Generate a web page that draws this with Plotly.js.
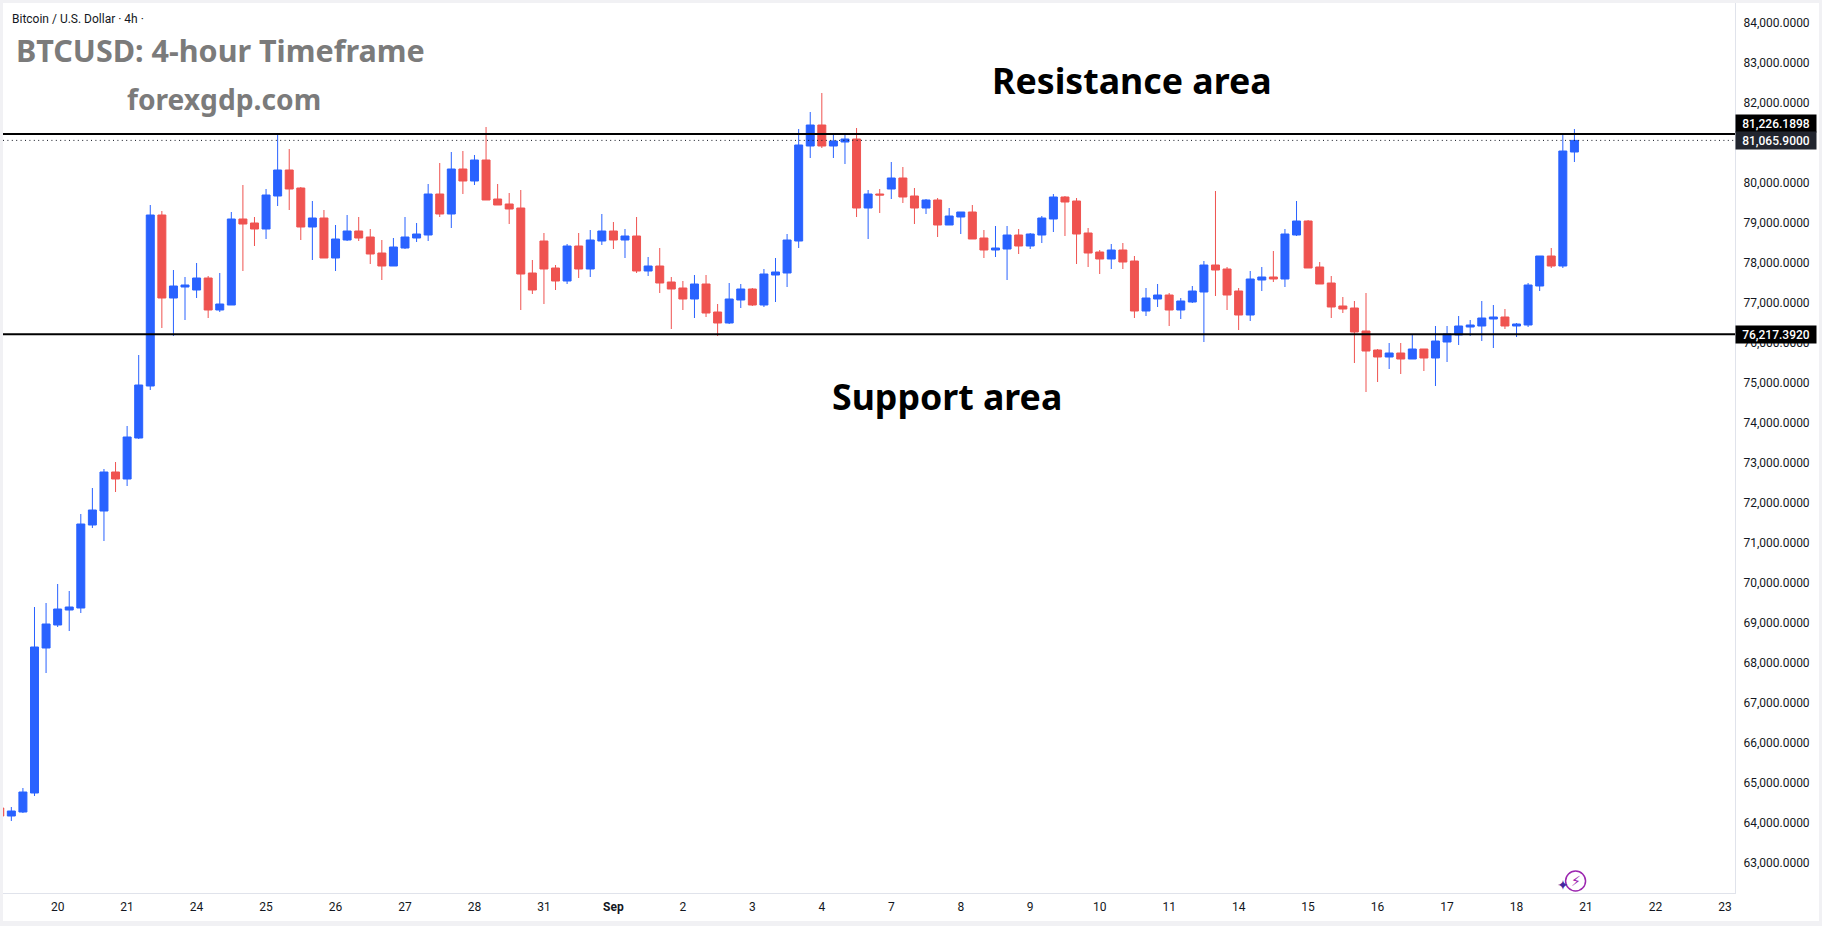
<!DOCTYPE html>
<html>
<head>
<meta charset="utf-8">
<title>BTCUSD 4-hour</title>
<script src="https://cdn.plot.ly/plotly-3.0.1.min.js"></script>
<style>
  html, body { margin: 0; padding: 0; background: #f1f1f4; overflow: hidden; }
  #sheet { position: absolute; left: 3px; top: 3px; width: 1816px; height: 918px; background: #fff; }
  #plot { position: absolute; left: 0; top: 0; width: 1822px; height: 926px; }
</style>
</head>
<body>
<div id="sheet"></div>
<div id="plot"></div>
<script>
// 4h candles
var opens = [
  64376, 64176, 64276, 64751, 68376, 68951, 69326, 69376, 71451, 71801,
  72776, 72601, 73626, 74926, 79201, 77126, 77401, 77326, 77626, 76826,
  76951, 79101, 79001, 78851, 79676, 80326, 79876, 78901, 79126, 78126,
  78576, 78801, 78651, 78251, 77926, 78376, 78626, 78701, 79726, 79226,
  80351, 80051, 80576, 79601, 79476, 79376, 77751, 78551, 77876, 77551,
  78426, 77851, 78551, 78801, 78576, 78676, 77801, 77926, 77526, 77376,
  77101, 77476, 76776, 76501, 77076, 77351, 76951, 77701, 77751, 78551,
  80926, 81451, 80926, 81026, 81101, 79376, 79726, 79851, 80126, 79676,
  79376, 79576, 78951, 79151, 79276, 78626, 78326, 78351, 78701, 78426,
  78701, 79101, 79651, 79551, 78751, 78276, 78101, 78326, 78051, 76801,
  77101, 77201, 76826, 77026, 77276, 77951, 77851, 77301, 76701, 77576,
  77651, 77601, 78701, 79051, 77901, 77501, 76926, 76876, 76301, 75826,
  75651, 75751, 75601, 75851, 75626, 76026, 76201, 76401, 76426, 76601,
  76651, 76426, 76451, 77426, 78176, 77926, 80776
];
var highs = [
  64420, 64401, 64876, 69401, 69501, 69976, 69801, 71726, 72376, 72851,
  73026, 73926, 75701, 79451, 79301, 77826, 77651, 78001, 77676, 77751,
  79276, 79951, 79151, 79851, 81226, 80851, 79901, 79551, 79326, 78951,
  79201, 79151, 78851, 78576, 78626, 79151, 79001, 79976, 80501, 80776,
  80801, 80701, 81401, 79976, 79751, 79826, 78076, 78751, 77951, 78476,
  78751, 78826, 79226, 79026, 78851, 79151, 78151, 78376, 77651, 77551,
  77701, 77701, 76976, 77501, 77476, 77376, 77851, 78126, 78726, 81351,
  81776, 82251, 81251, 81201, 81376, 79826, 79851, 80526, 80401, 79876,
  79601, 79626, 79376, 79276, 79451, 78826, 78926, 78926, 78851, 78751,
  79176, 79726, 79676, 79626, 78876, 78326, 78476, 78501, 78176, 77376,
  77476, 77251, 77126, 77426, 78051, 79801, 77901, 77376, 77801, 77901,
  78301, 78851, 79551, 79076, 78026, 77676, 77151, 77051, 77251, 75851,
  76001, 76001, 76201, 75851, 76426, 76426, 76676, 76576, 77051, 76951,
  76851, 76501, 77501, 78176, 78376, 81226, 81351
];
var lows = [
  64130, 64051, 64251, 64676, 67751, 68901, 68801, 69251, 71376, 71051,
  72276, 72426, 73601, 74826, 76376, 76176, 76576, 77126, 76626, 76776,
  76951, 77801, 78426, 78601, 79426, 79326, 78576, 78076, 78126, 77801,
  78551, 78551, 77976, 77576, 77926, 78351, 78526, 78551, 79151, 78876,
  79726, 79951, 79576, 79451, 78976, 76826, 77226, 76976, 77326, 77476,
  77626, 77651, 78451, 78351, 78126, 77751, 77676, 77251, 76351, 76826,
  76626, 76651, 76176, 76476, 76876, 76926, 76901, 77026, 77401, 78376,
  80626, 80876, 80626, 80476, 79151, 78601, 79251, 79601, 79501, 78976,
  79226, 78651, 78951, 78726, 78601, 78126, 78151, 77576, 78226, 78351,
  78501, 78776, 78676, 77976, 77901, 77726, 77851, 77851, 76626, 76676,
  76901, 76426, 76601, 77001, 76026, 77176, 76826, 76326, 76551, 77301,
  77526, 77401, 78676, 77876, 77476, 76626, 76751, 75501, 74776, 75026,
  75351, 75226, 75601, 75301, 74926, 75526, 75951, 76176, 76051, 75876,
  76351, 76151, 76401, 77301, 77876, 77876, 80526
];
var closes = [
  64176, 64301, 64776, 68401, 68976, 69351, 69401, 71476, 71826, 72776,
  72601, 73651, 74951, 79201, 77126, 77426, 77451, 77626, 76826, 76976,
  79101, 78976, 78851, 79701, 80326, 79851, 78901, 79126, 78126, 78601,
  78801, 78626, 78226, 77926, 78401, 78651, 78726, 79726, 79226, 80351,
  80051, 80576, 79576, 79451, 79351, 77726, 77326, 77851, 77551, 78426,
  77851, 78576, 78801, 78576, 78676, 77801, 77926, 77501, 77351, 77101,
  77476, 76751, 76501, 77101, 77351, 76951, 77726, 77776, 78576, 80951,
  81451, 80926, 81051, 81101, 79376, 79726, 79701, 80126, 79651, 79376,
  79576, 78951, 79176, 79276, 78601, 78326, 78376, 78701, 78426, 78726,
  79126, 79651, 79526, 78726, 78251, 78101, 78326, 78026, 76801, 77126,
  77201, 76826, 77051, 77301, 77951, 77826, 77201, 76701, 77601, 77651,
  77601, 78726, 79051, 77876, 77476, 76901, 76851, 76276, 75801, 75651,
  75751, 75601, 75851, 75626, 76051, 76226, 76426, 76451, 76626, 76651,
  76426, 76476, 77451, 78176, 77926, 80801, 81065.9
];

var dayLabels = ["20", "21", "24", "25", "26", "27", "28", "31", "<b>Sep</b>", "2", "3", "4", "7", "8", "9",
  "10", "11", "14", "15", "16", "17", "18", "21", "22", "23"];
var priceTicks = [63000, 64000, 65000, 66000, 67000, 68000, 69000, 70000, 71000, 72000, 73000,
  74000, 75000, 76000, 77000, 78000, 79000, 80000, 81000, 82000, 83000, 84000];

var resistanceLevel = 81226.1898;
var supportLevel = 76217.3920;
var lastPrice = 81065.9;

// candle number on the x axis, there is one day label every 6 candles
var candleNo = opens.map(function (v, i) { return i; });
var dayTicks = dayLabels.map(function (v, k) { return 5 + 6 * k; });

var W = 1822, H = 926;
var plotLeft = 3, plotRight = 1735, plotTop = 3, plotBottom = 893;

function pX(px) { return (px - plotLeft) / (plotRight - plotLeft); }
function pY(py) { return 1 - (py - plotTop) / (plotBottom - plotTop); }

var blue = "#2962FF";
var red = "#EF5350";
var greyText = "#7b7b7b";

var trace1 = {
  type: "candlestick",
  x: candleNo,
  open: opens,
  high: highs,
  low: lows,
  close: closes,
  whiskerwidth: 0,
  increasing: { line: { color: blue, width: 1 }, fillcolor: blue },
  decreasing: { line: { color: red, width: 1 }, fillcolor: red },
  hoverinfo: "skip"
};

function hLine(level, width, dash, color) {
  return {
    type: "line", xref: "paper", yref: "y", x0: 0, x1: 1, y0: level, y1: level,
    line: { color: color, width: width, dash: dash }
  };
}

function freeText(text, px, py, size, color, bold) {
  return {
    text: bold ? "<b>" + text + "</b>" : text,
    xref: "paper", yref: "paper", x: pX(px), y: pY(py),
    xanchor: "left", yanchor: "middle", showarrow: false,
    font: { family: bold ? "Noto Sans" : "Roboto", size: size, color: color }
  };
}

function priceTag(level, bg, yshift) {
  return {
    text: level.toLocaleString("en-US", { minimumFractionDigits: 4, maximumFractionDigits: 4 }),
    xref: "paper", yref: "y", x: 1, y: level, xanchor: "left", yanchor: "middle", yshift: yshift,
    showarrow: false, bgcolor: bg, width: 80, height: 17, borderpad: 0, align: "center",
    font: { family: "Roboto", size: 12, color: "#ffffff", weight: 500 }
  };
}

var layout = {
  width: W,
  height: H,
  margin: { l: plotLeft, r: W - plotRight, t: plotTop, b: H - plotBottom, pad: 0 },
  paper_bgcolor: "rgba(0,0,0,0)",
  plot_bgcolor: "rgba(0,0,0,0)",
  showlegend: false,
  dragmode: false,
  boxgap: 0.31,
  boxgroupgap: 0,
  xaxis: {
    range: [0.28, 149.87],
    rangeslider: { visible: false },
    tickmode: "array",
    tickvals: dayTicks,
    ticktext: dayLabels,
    tickangle: 0,
    showgrid: false,
    zeroline: false,
    showline: true,
    linecolor: "#e0e3eb",
    linewidth: 1,
    ticks: "",
    ticklabelstandoff: 3,
    tickfont: { family: "Roboto", size: 12, color: "#131722" }
  },
  yaxis: {
    side: "right",
    range: [62251, 84501],
    tickmode: "array",
    tickvals: priceTicks,
    tickformat: ",.4f",
    showgrid: false,
    zeroline: false,
    showline: true,
    linecolor: "#e0e3eb",
    linewidth: 1,
    ticks: "",
    ticklabelstandoff: 5,
    tickfont: { family: "Roboto", size: 12, color: "#131722" }
  },
  shapes: [
    hLine(resistanceLevel, 2, "solid", "#000000"),
    hLine(supportLevel, 2, "solid", "#000000"),
    hLine(lastPrice, 1, "1px,3.4px", "#131722"),
    {
      type: "circle", xref: "x", yref: "paper", xsizemode: "pixel", ysizemode: "pixel",
      xanchor: 136.1, yanchor: pY(881), x0: -10, x1: 10, y0: -10, y1: 10,
      line: { color: "#9c27b0", width: 1.5 }
    }
  ],
  annotations: [
    freeText("Bitcoin / U.S. Dollar · 4h ·", 10, 19, 12, "#131722", false),
    freeText("BTCUSD: 4-hour Timeframe", 14, 50, 30.5, greyText, true),
    freeText("forexgdp.com", 125, 99, 28.2, greyText, true),
    freeText("Resistance area", 990, 80, 35.7, "#000000", true),
    freeText("Support area", 830, 396, 35.7, "#000000", true),
    priceTag(resistanceLevel, "#000000", 10),
    priceTag(lastPrice, "#22262f", 0),
    priceTag(supportLevel, "#000000", 0),
    {
      text: "<b>⚡</b>", xref: "x", yref: "paper", x: 136.1, y: pY(881), xanchor: "center", yanchor: "middle",
      showarrow: false, font: { family: "DejaVu Sans", size: 14, color: "#9c27b0" }
    },
    {
      text: "✦", xref: "x", yref: "paper", x: 135.0, y: pY(885), xanchor: "center", yanchor: "middle",
      showarrow: false, font: { family: "DejaVu Sans", size: 14, color: "#4527a0" }
    }
  ]
};

Plotly.newPlot("plot", [trace1], layout, { displayModeBar: false, staticPlot: true });
</script>
</body>
</html>
